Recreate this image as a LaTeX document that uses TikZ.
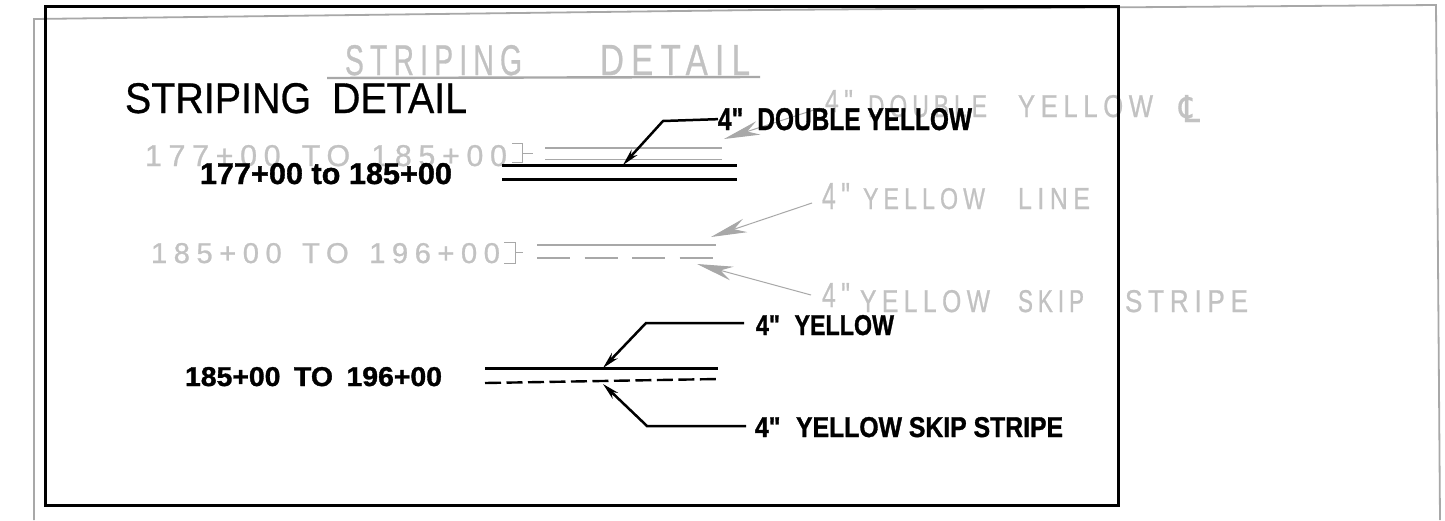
\documentclass[tikz,border=0pt]{standalone}
\usepackage{fontspec}
\usepackage{graphicx}
\usetikzlibrary{arrows.meta}
\setmainfont{Liberation Sans}
\newfontfamily\inkfont[BoldFeatures={FakeBold=1.2}]{Liberation Sans}
\newfontfamily\titlefont[FakeBold=0.7]{Liberation Sans}
\newfontfamily\spaced[LetterSpace=22,FakeBold=0.8]{Liberation Sans}
\newfontfamily\djv[FakeBold=0.5]{DejaVu Sans}
\definecolor{scan}{gray}{0.66}
\definecolor{scantext}{gray}{0.76}
% box text to exact width/height in px
\newcommand{\fitbox}[3]{\resizebox{#1pt}{#2pt}{#3}}
\tikzset{
  lbl/.style={anchor=north west,inner sep=0pt,outer sep=0pt},
  inktext/.style={lbl,text=black,font=\inkfont\bfseries},
  titletext/.style={lbl,text=black,font=\titlefont},
  ghosttext/.style={lbl,text=scantext,font=\spaced},
  frame/.style={draw=black,line width=3pt,line join=miter},
  scanframe/.style={draw=scan,line width=1.8pt},
  stripe/.style={draw=black,line width=3pt},
  dashstripe/.style={draw=black,line width=2.4pt,dash pattern=on 16pt off 5.5pt},
  leader/.style={draw=black,line width=2.5pt,-{Stealth[length=17pt,width=8pt]}},
  ghostline/.style={draw=scan,line width=1.5pt},
  ghostthick/.style={draw=scan,line width=2.4pt},
  ghostthin/.style={draw=scan,line width=1pt},
  ghostdash/.style={draw=scan,line width=1.2pt,dash pattern=on 33pt off 14.5pt},
  ghostleader/.style={draw=scan,line width=1pt,-{Stealth[length=36pt,width=14pt,fill=scan]}},
}
\begin{document}
\begin{tikzpicture}[x=1pt,y=-1pt]
\useasboundingbox (0,0) rectangle (1445,520);
\fill[white] (0,0) rectangle (1445,520);
% scanned-through ghost drawing
\coordinate (gbl) at (34,520);
\coordinate (gtl) at (34,19);
\coordinate (gtm) at (760,10);
\coordinate (gtr) at (1436,5);
\coordinate (gbr) at (1440,520);
\draw[scanframe] (gbl) -- (gtl) -- (gtm) -- (gtr) -- (gbr);
\node[ghosttext] (gtitleA) at (345,45) {\fitbox{177}{30}{STRIPING}};
\node[ghosttext] (gtitleB) at (600,45) {\fitbox{150}{30}{DETAIL}};
\coordinate (gulA) at (327,78);
\coordinate (gulB) at (760,77);
\draw[ghostthick] (gulA) -- (gulB);
\node[ghosttext] (grA) at (145,145) {\fitbox{362}{21}{177+00 \hspace{.2em}TO\hspace{.2em} 185+00}};
\node[ghosttext] (grB) at (151,243) {\fitbox{349}{20}{185+00 \hspace{.2em}TO\hspace{.2em} 196+00}};
% ghost stripes
\coordinate (g1a) at (545,148); \coordinate (g1b) at (722,148);
\coordinate (g2a) at (545,159); \coordinate (g2b) at (722,159);
\draw[ghostthick] (g1a) -- (g1b);
\draw[ghostthin] (g2a) -- (g2b);
\coordinate (b1a) at (512,143); \coordinate (b1b) at (522,143);
\coordinate (b1c) at (522,162); \coordinate (b1d) at (512,162);
\coordinate (b1e) at (533,153); \coordinate (b1f) at (522,153);
\draw[ghostthin] (b1a) -- (b1b) -- (b1c) -- (b1d) (b1f) -- (b1e);
\coordinate (g3a) at (537,245); \coordinate (g3b) at (716,245);
\coordinate (g4a) at (537,258); \coordinate (g4b) at (718,258);
\draw[ghostline] (g3a) -- (g3b);
\draw[ghostdash] (g4a) -- (g4b);
\coordinate (b2a) at (504,242); \coordinate (b2b) at (515,242);
\coordinate (b2c) at (515,263); \coordinate (b2d) at (504,263);
\coordinate (b2e) at (523,252); \coordinate (b2f) at (515,252);
\draw[ghostthin] (b2a) -- (b2b) -- (b2c) -- (b2d) (b2f) -- (b2e);
% ghost labels
\node[ghosttext] (gdy4) at (825,90) {\fitbox{28}{22}{4"}};
\node[ghosttext] (gdyA) at (868,95) {\fitbox{119}{22}{DOUBLE}};
\node[ghosttext] (gdyB) at (1018,95) {\fitbox{135}{22}{YELLOW}};
\node[lbl,text=scantext] (gdyC) at (1179,95) {\fitbox{21}{27}{\djv ℄}};
\node[ghosttext] (gyl4) at (822,183) {\fitbox{28}{26}{4"}};
\node[ghosttext] (gylA) at (863,188) {\fitbox{122}{21}{YELLOW}};
\node[ghosttext] (gylB) at (1018,188) {\fitbox{72}{21}{LINE}};
\node[ghosttext] (gss4) at (822,283) {\fitbox{28}{24}{4"}};
\node[ghosttext] (gssA) at (860,290) {\fitbox{130}{22}{YELLOW}};
\node[ghosttext] (gssB) at (1018,290) {\fitbox{66}{22}{SKIP}};
\node[ghosttext] (gssC) at (1125,290) {\fitbox{123}{22}{STRIPE}};
\coordinate (ga1s) at (820,108); \coordinate (ga1e) at (724,139);
\coordinate (ga2s) at (812,203); \coordinate (ga2e) at (711,237);
\coordinate (ga3s) at (811,295); \coordinate (ga3e) at (697,264);
\draw[ghostleader] (ga1s) -- (ga1e);
\draw[ghostleader] (ga2s) -- (ga2e);
\draw[ghostleader] (ga3s) -- (ga3e);
% black frame
\draw[frame] (45,6) rectangle (1118,505);
% title
\node[titletext] (title) at (125,83) {\fitbox{342}{30}{STRIPING\hspace{.25em} DETAIL}};
% first detail
\node[inktext] (rangeA) at (200,163) {\fitbox{252}{21}{177+00 to 185+00}};
\coordinate (s1a) at (502,165); \coordinate (s1b) at (737,165);
\coordinate (s2a) at (502,179); \coordinate (s2b) at (737,179);
\draw[stripe] (s1a) -- (s1b);
\draw[stripe] (s2a) -- (s2b);
\node[inktext] (lblA) at (718,108) {\fitbox{254}{22}{4"\hspace{.3em} DOUBLE YELLOW}};
\coordinate (kA) at (663,121);
\coordinate (tA) at (623,165);
\draw[leader] (lblA.west) -- (kA) -- (tA);
% second detail
\node[inktext] (rangeB) at (185,367) {\fitbox{257}{19}{185+00\hspace{.2em} TO\hspace{.2em} 196+00}};
\coordinate (s3a) at (485,368); \coordinate (s3b) at (718,368);
\coordinate (s4a) at (485,383); \coordinate (s4b) at (718,379);
\draw[stripe] (s3a) -- (s3b);
\draw[dashstripe] (s4a) -- (s4b);
\node[inktext] (lblB) at (756,315) {\fitbox{138}{20}{4"\hspace{.35em} YELLOW}};
\coordinate (kB) at (646,323);
\coordinate (tB) at (603,368);
\coordinate (sB) at (744,323);
\draw[leader] (sB) -- (kB) -- (tB);
\node[inktext] (lblC) at (755,417) {\fitbox{308}{20}{4"\hspace{.35em} YELLOW SKIP STRIPE}};
\coordinate (kC) at (647,426);
\coordinate (tC) at (603,384);
\coordinate (sC) at (746,426);
\draw[leader] (sC) -- (kC) -- (tC);
\end{tikzpicture}
\end{document}
